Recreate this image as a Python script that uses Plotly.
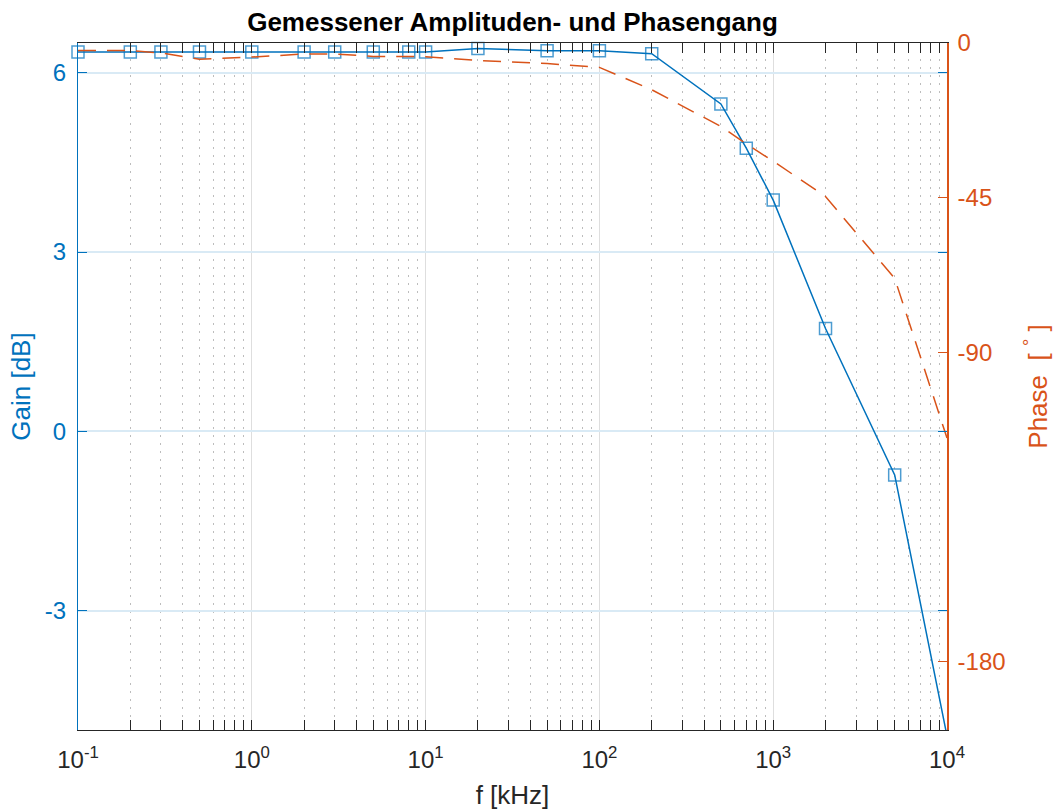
import plotly.graph_objects as go

# Measured frequency response of the filter
freq_khz = [0.1, 0.2, 0.3, 0.5, 1, 2, 3, 5, 8, 10, 20, 50, 100, 200, 500, 700, 1000, 2000, 5000, 10000]
gain_db = [6.35, 6.35, 6.35, 6.35, 6.35, 6.35, 6.35, 6.35, 6.35, 6.35, 6.41, 6.37, 6.37, 6.32,
           5.48, 4.74, 3.87, 1.72, -0.73, -5.1]
phase_deg = [-2.2, -2.2, -2.9, -4.7, -4.1, -3.2, -3.2, -3.9, -3.9, -4.0, -5.1, -6.0, -7.1, -13.6,
             -24.3, -29.4, -34.4, -44.7, -68.5, -115.0]

# Axis settings
x_major = [0.1, 1, 10, 100, 1000, 10000]
x_major_text = ["10<sup>-1</sup>", "10<sup>0</sup>", "10<sup>1</sup>", "10<sup>2</sup>",
                "10<sup>3</sup>", "10<sup>4</sup>"]
x_minor = [m * d for d in [0.1, 1, 10, 100, 1000] for m in range(2, 10)]
gain_ticks = [-3, 0, 3, 6]
gain_tick_text = ["-3", "0", "3", "6"]
gain_range = [-5, 6.5]
phase_ticks = [-180, -90, -45, 0]
phase_tick_text = ["-180", "-90", "-45", "0"]
phase_range = [-200, 0]

BLUE = "#0072BD"
ORANGE = "#D95319"
DARK = "#262626"
FONT = "Liberation Sans, Arial, sans-serif"
TICK_SIZE = 24
LABEL_SIZE = 26

# markers whose centre lies outside the gain axis are hidden, lines are clipped
marker_sizes = [12 if g >= gain_range[0] else 0 for g in gain_db]

fig = go.Figure()
fig.add_trace(go.Scatter(
    x=freq_khz, y=gain_db, mode="lines+markers", name="Gain",
    line=dict(color=BLUE, width=1.5),
    marker=dict(symbol="square-open", size=marker_sizes, color=BLUE, line=dict(width=1.5, color=BLUE)),
    cliponaxis=False, showlegend=False,
))
fig.add_trace(go.Scatter(
    x=freq_khz, y=phase_deg, mode="lines", name="Phase", yaxis="y2",
    line=dict(color=ORANGE, width=1.5, dash="18px,11px"),
    showlegend=False,
))

fig.update_layout(
    width=1062, height=812,
    margin=dict(l=78, r=115, t=43, b=82),
    paper_bgcolor="white", plot_bgcolor="white",
    font=dict(family=FONT, size=TICK_SIZE, color=DARK),
    title=dict(text="<b>Gemessener Amplituden- und Phasengang</b>", x=0.4826, xanchor="center",
               y=0.973, yanchor="middle", font=dict(size=26, color="black", family=FONT)),
    xaxis=dict(
        type="log", range=[-1, 4], tickmode="array", tickvals=x_major, ticktext=x_major_text,
        showline=True, linecolor=DARK, linewidth=1.2, mirror="allticks",
        ticks="inside", ticklen=10, tickwidth=1.2, tickcolor=DARK,
        showgrid=True, gridcolor="#DEDEDE", gridwidth=1.2,
        minor=dict(tickmode="array", tickvals=x_minor, ticks="inside", ticklen=5, tickwidth=1.2,
                   tickcolor=DARK, showgrid=True, gridcolor="#BDBDBD", griddash="1.5px,6.5px",
                   gridwidth=1.2),
        tickfont=dict(size=TICK_SIZE, color=DARK), ticklabelstandoff=8,
        title=dict(text="f [kHz]", font=dict(size=LABEL_SIZE, color=DARK), standoff=13),
        zeroline=False, automargin=False,
    ),
    yaxis=dict(
        range=gain_range, tickmode="array", tickvals=gain_ticks, ticktext=gain_tick_text,
        showline=True, linecolor=BLUE, linewidth=1.2, mirror="allticks",
        ticks="inside", ticklen=9, tickwidth=1.2, tickcolor=BLUE,
        showgrid=True, gridcolor="#D9EAF5", gridwidth=1.5,
        tickfont=dict(size=TICK_SIZE, color=BLUE), ticklabelstandoff=6,
        title=dict(text="Gain [dB]", font=dict(size=LABEL_SIZE, color=BLUE), standoff=6),
        zeroline=False, automargin=False,
    ),
    yaxis2=dict(
        range=phase_range, tickmode="array", tickvals=phase_ticks, ticktext=phase_tick_text,
        overlaying="y", side="right",
        showline=True, linecolor=ORANGE, linewidth=1.5,
        ticks="inside", ticklen=9, tickwidth=1.2, tickcolor=ORANGE,
        showgrid=False, zeroline=False,
        tickfont=dict(size=TICK_SIZE, color=ORANGE), ticklabelstandoff=4,
        title=dict(text="Phase  [ <sup>°</sup> ]", font=dict(size=LABEL_SIZE, color=ORANGE), standoff=24),
        automargin=False,
    ),
)

fig.write_html("out.html")
